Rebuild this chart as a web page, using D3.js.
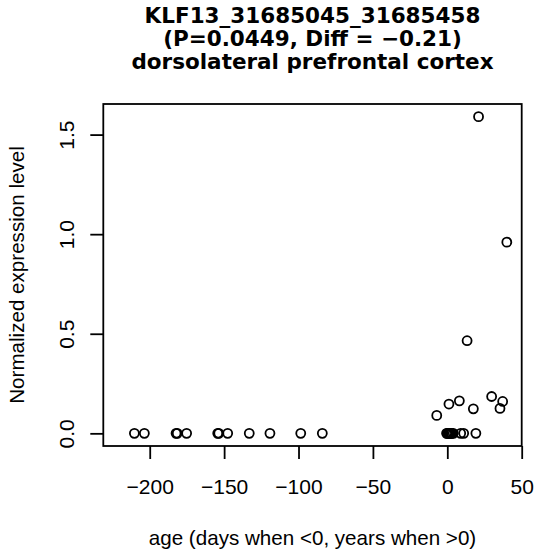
<!DOCTYPE html>
<html>
<head>
<meta charset="utf-8">
<script src="https://cdn.jsdelivr.net/npm/d3@7"></script>
<style>
  body { margin: 0; background: #fff; }
  svg text { font-family: "Liberation Sans", Arial, sans-serif; fill: #000; }
</style>
</head>
<body>
<div id="chart"></div>
<script>
// Données
const titleLines = ["KLF13_31685045_31685458", "(P=0.0449, Diff = \u22120.21)", "dorsolateral prefrontal cortex"];
const xLabel = "age (days when <0, years when >0)";
const yLabel = "Normalized expression level";

const ages = [-210.3, -203.6, -182.3, -181.5, -175.2, -154.3, -153.6, -147.6, -133.1, -119.2, -98.5, -84.0,
              -7.1, -0.5, 0, 0.5, 1, 1.5, 2, 2.5, 3, 4, 9, 11, 19.2,
              1.1, 8.1, 13.3, 17.5, 21.0, 29.8, 35.4, 37.2, 40.0];
const levels = [0, 0, 0, 0, 0, 0, 0, 0, 0, 0, 0, 0,
                0.09, 0, 0, 0, 0, 0, 0, 0, 0, 0, 0, 0, 0,
                0.147, 0.163, 0.465, 0.123, 1.59, 0.185, 0.125, 0.16, 0.96];

const xTicks = [-200, -150, -100, -50, 0, 50];
const yTicks = [0, 0.5, 1.0, 1.5];
const xlim = [-231.2, 50];

(function() {
    const W = 536, H = 555;
    const margin = { top: 104, right: 14.3, bottom: 109, left: 103.3 };

    const svg = d3.select("#chart").append("svg")
        .attr("width", W)
        .attr("height", H);

    const data = ages.map((a, i) => ({ age: a, level: levels[i] }));

    // Échelles (y : marge de 4 % comme R)
    const x = d3.scaleLinear()
        .domain(xlim)
        .range([margin.left, W - margin.right]);

    const [ymin, ymax] = d3.extent(levels);
    const pad = (ymax - ymin) * 0.04;
    const y = d3.scaleLinear()
        .domain([ymin - pad, ymax + pad])
        .range([H - margin.bottom, margin.top]);

    // Axe x
    const xAxis = svg.append("g")
        .attr("transform", `translate(0,${H - margin.bottom})`)
        .call(d3.axisBottom(x).tickValues(xTicks).tickSize(13).tickPadding(20).tickFormat(d3.format("d")));
    xAxis.select(".domain").remove();
    xAxis.selectAll("line").attr("stroke", "#000").attr("stroke-width", 1.8);
    xAxis.selectAll("text").attr("font-size", 21).style("font-family", "Liberation Sans, Arial, sans-serif");

    // Axe y (étiquettes verticales)
    const yAxis = svg.append("g")
        .attr("transform", `translate(${margin.left},0)`)
        .call(d3.axisLeft(y).tickValues(yTicks).tickSize(13).tickFormat(d3.format(".1f")));
    yAxis.select(".domain").remove();
    yAxis.selectAll("line").attr("stroke", "#000").attr("stroke-width", 1.8);
    yAxis.selectAll("text")
        .attr("font-size", 21)
        .style("font-family", "Liberation Sans, Arial, sans-serif")
        .attr("x", null).attr("dy", null)
        .attr("text-anchor", "middle")
        .attr("transform", "translate(-29,0) rotate(-90)");

    // Cadre
    svg.append("rect")
        .attr("x", margin.left)
        .attr("y", margin.top)
        .attr("width", W - margin.left - margin.right)
        .attr("height", H - margin.top - margin.bottom)
        .attr("fill", "none")
        .attr("stroke", "#000")
        .attr("stroke-width", 1.8);

    // Points
    svg.selectAll(".dot")
        .data(data)
        .enter().append("circle")
        .attr("class", "dot")
        .attr("cx", d => x(d.age))
        .attr("cy", d => y(d.level))
        .attr("r", 4.5)
        .attr("fill", "none")
        .attr("stroke", "#000")
        .attr("stroke-width", 1.8);

    // Titre
    svg.selectAll(".title")
        .data(titleLines)
        .enter().append("text")
        .attr("class", "title")
        .attr("x", (margin.left + W - margin.right) / 2)
        .attr("y", (d, i) => 23 + i * 22.8)
        .attr("text-anchor", "middle")
        .attr("font-weight", "bold")
        .style("font-family", "'DejaVu Sans', sans-serif")
        .attr("font-size", 21.5)
        .text(d => d);

    // Libellés des axes
    svg.append("text")
        .attr("x", (margin.left + W - margin.right) / 2)
        .attr("y", 545)
        .attr("text-anchor", "middle")
        .attr("font-size", 20.6)
        .text(xLabel);

    svg.append("text")
        .attr("transform", `translate(24,${(margin.top + H - margin.bottom) / 2}) rotate(-90)`)
        .attr("text-anchor", "middle")
        .attr("font-size", 20.6)
        .text(yLabel);
})();
</script>
</body>
</html>
